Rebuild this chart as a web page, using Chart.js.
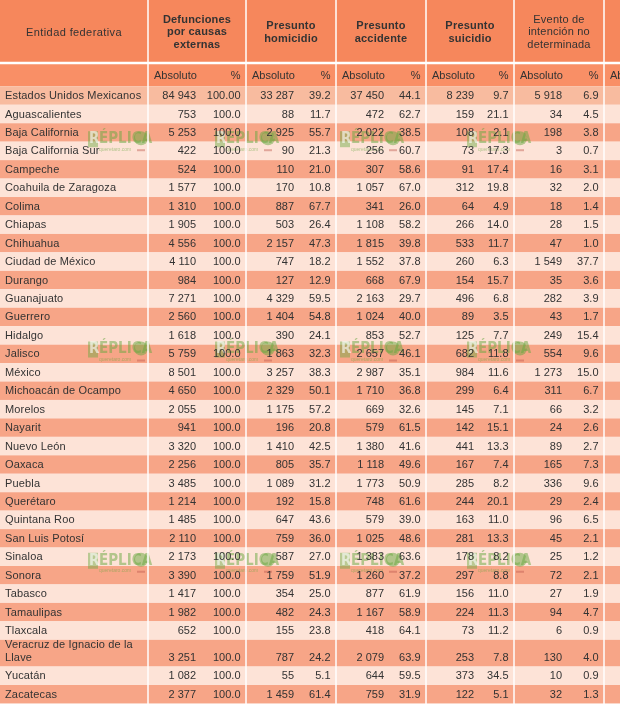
<!DOCTYPE html>
<html lang="es">
<head>
<meta charset="utf-8">
<title>Defunciones por causas externas por entidad federativa</title>
<script src="https://cdn.jsdelivr.net/npm/chart.js@4.4.1/dist/chart.umd.min.js"></script>
<style>
  html, body { margin: 0; padding: 0; background: #fff; }
  #tabla { display: block; }
</style>
</head>
<body>
<canvas id="tabla" width="620" height="704"></canvas>
<script>
// ------------------------------------------------------------
// Datos de la tabla
// ------------------------------------------------------------
const entidades = [
    'Estados Unidos Mexicanos', 'Aguascalientes', 'Baja California', 'Baja California Sur',
    'Campeche', 'Coahuila de Zaragoza', 'Colima', 'Chiapas', 'Chihuahua', 'Ciudad de México',
    'Durango', 'Guanajuato', 'Guerrero', 'Hidalgo', 'Jalisco', 'México', 'Michoacán de Ocampo',
    'Morelos', 'Nayarit', 'Nuevo León', 'Oaxaca', 'Puebla', 'Querétaro', 'Quintana Roo',
    'San Luis Potosí', 'Sinaloa', 'Sonora', 'Tabasco', 'Tamaulipas', 'Tlaxcala',
    'Veracruz de Ignacio de la\nLlave', 'Yucatán', 'Zacatecas'
];

const defuncionesAbs = [84943, 753, 5253, 422, 524, 1577, 1310, 1905, 4556, 4110, 984, 7271, 2560, 1618, 5759, 8501, 4650,
    2055, 941, 3320, 2256, 3485, 1214, 1485, 2110, 2173, 3390, 1417, 1982, 652, 3251, 1082, 2377];
const defuncionesPct = [100, 100, 100, 100, 100, 100, 100, 100, 100, 100, 100, 100, 100, 100, 100, 100, 100,
    100, 100, 100, 100, 100, 100, 100, 100, 100, 100, 100, 100, 100, 100, 100, 100];

const homicidioAbs = [33287, 88, 2925, 90, 110, 170, 887, 503, 2157, 747, 127, 4329, 1404, 390, 1863, 3257, 2329,
    1175, 196, 1410, 805, 1089, 192, 647, 759, 587, 1759, 354, 482, 155, 787, 55, 1459];
const homicidioPct = [39.2, 11.7, 55.7, 21.3, 21.0, 10.8, 67.7, 26.4, 47.3, 18.2, 12.9, 59.5, 54.8, 24.1, 32.3, 38.3, 50.1,
    57.2, 20.8, 42.5, 35.7, 31.2, 15.8, 43.6, 36.0, 27.0, 51.9, 25.0, 24.3, 23.8, 24.2, 5.1, 61.4];

const accidenteAbs = [37450, 472, 2022, 256, 307, 1057, 341, 1108, 1815, 1552, 668, 2163, 1024, 853, 2657, 2987, 1710,
    669, 579, 1380, 1118, 1773, 748, 579, 1025, 1383, 1260, 877, 1167, 418, 2079, 644, 759];
const accidentePct = [44.1, 62.7, 38.5, 60.7, 58.6, 67.0, 26.0, 58.2, 39.8, 37.8, 67.9, 29.7, 40.0, 52.7, 46.1, 35.1, 36.8,
    32.6, 61.5, 41.6, 49.6, 50.9, 61.6, 39.0, 48.6, 63.6, 37.2, 61.9, 58.9, 64.1, 63.9, 59.5, 31.9];

const suicidioAbs = [8239, 159, 108, 73, 91, 312, 64, 266, 533, 260, 154, 496, 89, 125, 682, 984, 299,
    145, 142, 441, 167, 285, 244, 163, 281, 178, 297, 156, 224, 73, 253, 373, 122];
const suicidioPct = [9.7, 21.1, 2.1, 17.3, 17.4, 19.8, 4.9, 14.0, 11.7, 6.3, 15.7, 6.8, 3.5, 7.7, 11.8, 11.6, 6.4,
    7.1, 15.1, 13.3, 7.4, 8.2, 20.1, 11.0, 13.3, 8.2, 8.8, 11.0, 11.3, 11.2, 7.8, 34.5, 5.1];

const indeterminadaAbs = [5918, 34, 198, 3, 16, 32, 18, 28, 47, 1549, 35, 282, 43, 249, 554, 1273, 311,
    66, 24, 89, 165, 336, 29, 96, 45, 25, 72, 27, 94, 6, 130, 10, 32];
const indeterminadaPct = [6.9, 4.5, 3.8, 0.7, 3.1, 2.0, 1.4, 1.5, 1.0, 37.7, 3.6, 3.9, 1.7, 15.4, 9.6, 15.0, 6.7,
    3.2, 2.6, 2.7, 7.3, 9.6, 2.4, 6.5, 2.1, 1.2, 2.1, 1.9, 4.7, 0.9, 4.0, 0.9, 1.3];

const tituloEntidad = 'Entidad federativa';
const gruposEncabezado = [
    ['Defunciones', 'por causas', 'externas'],
    ['Presunto', 'homicidio'],
    ['Presunto', 'accidente'],
    ['Presunto', 'suicidio'],
    ['Evento de', 'intención no', 'determinada']
];
const subEncabezados = ['Absoluto', '%'];

const columnas = [
    { abs: defuncionesAbs, pct: defuncionesPct },
    { abs: homicidioAbs, pct: homicidioPct },
    { abs: accidenteAbs, pct: accidentePct },
    { abs: suicidioAbs, pct: suicidioPct },
    { abs: indeterminadaAbs, pct: indeterminadaPct }
];

// ------------------------------------------------------------
// Disposición (unidades de los ejes: x en px de columna, y en filas)
// ------------------------------------------------------------
const bordesGrupo = [0, 148, 246, 336, 426, 514, 604];
const ANCHO_TOTAL = 620;
const ALTO_ENC = 3.41;
const ALTO_SUB = 1.27;
const ALTO_DOBLE = 1.45;

const alturasFila = entidades.map(e => e.includes('\n') ? ALTO_DOBLE : 1);
const ALTO_TOTAL = ALTO_ENC + ALTO_SUB + alturasFila.reduce((a, b) => a + b, 0) + 0.03;

const colores = {
    encabezado: '#f6875c',
    sub: '#f98f66',
    nacional: '#f8bb9f',
    clara: '#fde3d7',
    oscura: '#f7a587',
    texto: '#333333',
    linea: '#ffffff'
};
const FUENTE = '"Liberation Sans", Arial, sans-serif';

// logotipos de marca de agua (x en px de columna, y en filas)
const marcasAgua = { x: [119, 246, 371, 498], y: [7.6, 19.0, 30.45] };

function formatoMiles(n) {
    return String(n).replace(/\B(?=(\d{3})+(?!\d))/g, ' ');
}

const tablaPlugin = {
    id: 'tabla',
    beforeDraw(chart) {
        const { ctx, scales: { x, y } } = chart;
        const px = v => x.getPixelForValue(v);
        const py = v => y.getPixelForValue(v);
        const xIzq = px(0), xDer = px(ANCHO_TOTAL);

        ctx.save();
        // fondos de encabezado
        ctx.fillStyle = colores.encabezado;
        ctx.fillRect(xIzq, py(0), xDer - xIzq, py(ALTO_ENC) - py(0));
        ctx.fillStyle = colores.sub;
        ctx.fillRect(xIzq, py(ALTO_ENC), xDer - xIzq, py(ALTO_ENC + ALTO_SUB) - py(ALTO_ENC));

        // bandas de filas
        const filas = [];
        let acumulado = ALTO_ENC + ALTO_SUB;
        entidades.forEach((e, i) => {
            const y0 = acumulado, y1 = acumulado + alturasFila[i];
            filas.push({ y0, y1 });
            ctx.fillStyle = i === 0 ? colores.nacional : (i % 2 === 1 ? colores.clara : colores.oscura);
            ctx.fillRect(xIzq, py(y0), xDer - xIzq, py(y1) - py(y0));
            acumulado = y1;
        });

        // marcas de agua
        ctx.textBaseline = 'middle';
        marcasAgua.y.forEach(my => {
            marcasAgua.x.forEach(mx => {
                const cx = px(mx), cy = py(my);
                ctx.fillStyle = 'rgba(104, 168, 64, 0.45)';
                ctx.fillRect(cx - 31, cy - 9, 10, 16);
                ctx.font = 'bold 15px "Liberation Sans Narrow", "DejaVu Sans Condensed", sans-serif';
                ctx.textAlign = 'left';
                ctx.fillStyle = 'rgba(255, 255, 255, 0.6)';
                ctx.fillText('R', cx - 30, cy - 1);
                ctx.fillStyle = 'rgba(104, 168, 64, 0.5)';
                ctx.fillText('ÉPLICA', cx - 20, cy - 1);
                ctx.beginPath();
                ctx.arc(cx + 22, cy - 2, 7, 0, Math.PI * 2);
                ctx.fill();
                ctx.fillStyle = 'rgba(190, 90, 80, 0.45)';
                ctx.fillRect(cx + 18, cy + 9, 8, 2);
                ctx.font = '5px ' + FUENTE;
                ctx.fillStyle = 'rgba(104, 168, 64, 0.5)';
                ctx.fillText('queretaro.com', cx - 20, cy + 9);
            });
        });

        // líneas blancas
        ctx.strokeStyle = colores.linea;
        ctx.lineWidth = 2.5;
        ctx.beginPath();
        ctx.moveTo(xIzq, py(ALTO_ENC));
        ctx.lineTo(xDer, py(ALTO_ENC));
        ctx.stroke();
        ctx.lineWidth = 1.5;
        bordesGrupo.slice(1).forEach(b => {
            ctx.beginPath();
            ctx.moveTo(px(b), py(0));
            ctx.lineTo(px(b), py(ALTO_TOTAL));
            ctx.stroke();
        });

        // textos de encabezado
        ctx.fillStyle = colores.texto;
        ctx.textBaseline = 'middle';
        ctx.textAlign = 'center';
        const centroEnc = py(ALTO_ENC / 2) + 1;
        ctx.font = '11px ' + FUENTE;
        ctx.letterSpacing = '0.4px';
        ctx.fillText(tituloEntidad, (px(bordesGrupo[0]) + px(bordesGrupo[1])) / 2, centroEnc + 1);
        ctx.letterSpacing = '0.2px';
        gruposEncabezado.forEach((lineas, g) => {
            ctx.font = (g === 4 ? '' : 'bold ') + '11px ' + FUENTE;
            const cx = (px(bordesGrupo[g + 1]) + px(bordesGrupo[g + 2])) / 2;
            const paso = 12.8;
            lineas.forEach((t, k) => {
                ctx.fillText(t, cx, centroEnc + (k - (lineas.length - 1) / 2) * paso);
            });
        });

        // subencabezados
        ctx.font = '11px ' + FUENTE;
        ctx.letterSpacing = '0px';
        const ySub = (py(ALTO_ENC) + py(ALTO_ENC + ALTO_SUB)) / 2 + 1;
        for (let g = 1; g < bordesGrupo.length; g++) {
            ctx.textAlign = 'left';
            ctx.fillText(subEncabezados[0], px(bordesGrupo[g]) + 6, ySub);
            if (g < bordesGrupo.length - 1) {
                ctx.textAlign = 'right';
                ctx.fillText(subEncabezados[1], px(bordesGrupo[g + 1]) - 5.5, ySub);
            }
        }

        // filas de datos
        entidades.forEach((nombre, i) => {
            const { y1 } = filas[i];
            const yBase = py(y1) - (py(1) - py(0)) / 2 + 0.5;
            const lineas = nombre.split('\n');
            ctx.textAlign = 'left';
            ctx.letterSpacing = '0.15px';
            lineas.forEach((t, k) => {
                ctx.fillText(t, px(bordesGrupo[0]) + 5, yBase - (lineas.length - 1 - k) * 13);
            });
            ctx.letterSpacing = '0px';
            ctx.textAlign = 'right';
            columnas.forEach((c, g) => {
                const inicio = px(bordesGrupo[g + 1]);
                const fin = px(bordesGrupo[g + 2]);
                ctx.fillText(formatoMiles(c.abs[i]), inicio + 48, yBase);
                const dec = (g === 0 && i === 0) ? 2 : 1;
                ctx.fillText(c.pct[i].toFixed(dec), fin - 5.5, yBase);
            });
        });
        ctx.restore();
    }
};

new Chart(document.getElementById('tabla'), {
    type: 'scatter',
    data: { datasets: [] },
    options: {
        responsive: false,
        animation: false,
        layout: { padding: 0 },
        plugins: { legend: { display: false }, tooltip: { enabled: false } },
        scales: {
            x: { type: 'linear', min: 0, max: ANCHO_TOTAL, display: false },
            y: { type: 'linear', min: 0, max: ALTO_TOTAL, reverse: true, display: false }
        }
    },
    plugins: [tablaPlugin]
});
</script>
</body>
</html>
